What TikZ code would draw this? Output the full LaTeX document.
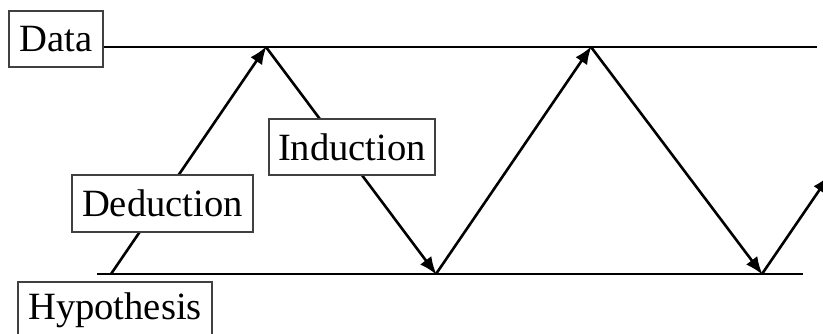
\documentclass[tikz,border=0pt]{standalone}
\usepackage{fontspec}
\setmainfont{Liberation Serif}
\usetikzlibrary{arrows.meta}
\begin{document}
\begin{tikzpicture}[x=1pt,y=-1pt,
  label box/.style={draw=black!75, line width=1.2pt, fill=white, inner sep=0pt,
    font=\fontsize{38.6}{40}\selectfont},
  level/.style={line width=2.6pt},
  flow/.style={line width=2.6pt, -{Latex[length=18pt,width=14pt]}, shorten >=-1pt}]
  \useasboundingbox (0,0) rectangle (823,333);

  % labels
  \node[label box, minimum width=94pt, minimum height=56pt] (data) at (56,39) {Data};

  % turning points on the data and hypothesis levels
  \coordinate (top1) at (266,47);
  \coordinate (top2) at (591,47);
  \coordinate (topend) at (817,47);
  \coordinate (bot0) at (97,274);
  \coordinate (start) at (111,274);
  \coordinate (bot1) at (436,274);
  \coordinate (bot2) at (762,274);
  \coordinate (botend) at (803,274);
  \coordinate (next) at (829,176);

  % the two levels
  \draw[level] (data.east |- topend) -- (topend);
  \draw[level] (bot0) -- (botend);

  % alternating deduction / induction steps
  \draw[flow] (start) -- (top1);
  \draw[flow] (top1) -- (bot1);
  \draw[flow] (bot1) -- (top2);
  \draw[flow] (top2) -- (bot2);
  \draw[flow] (bot2) -- (next);

  \node[label box, minimum width=181pt, minimum height=57pt] (deduction) at (162.5,203.5) {Deduction};
  \node[label box, minimum width=166pt, minimum height=56pt] (induction) at (352,147) {Induction};
  \node[label box, minimum width=194pt, minimum height=56pt] (hypothesis) at (115,310) {Hypothesis};
\end{tikzpicture}
\end{document}
